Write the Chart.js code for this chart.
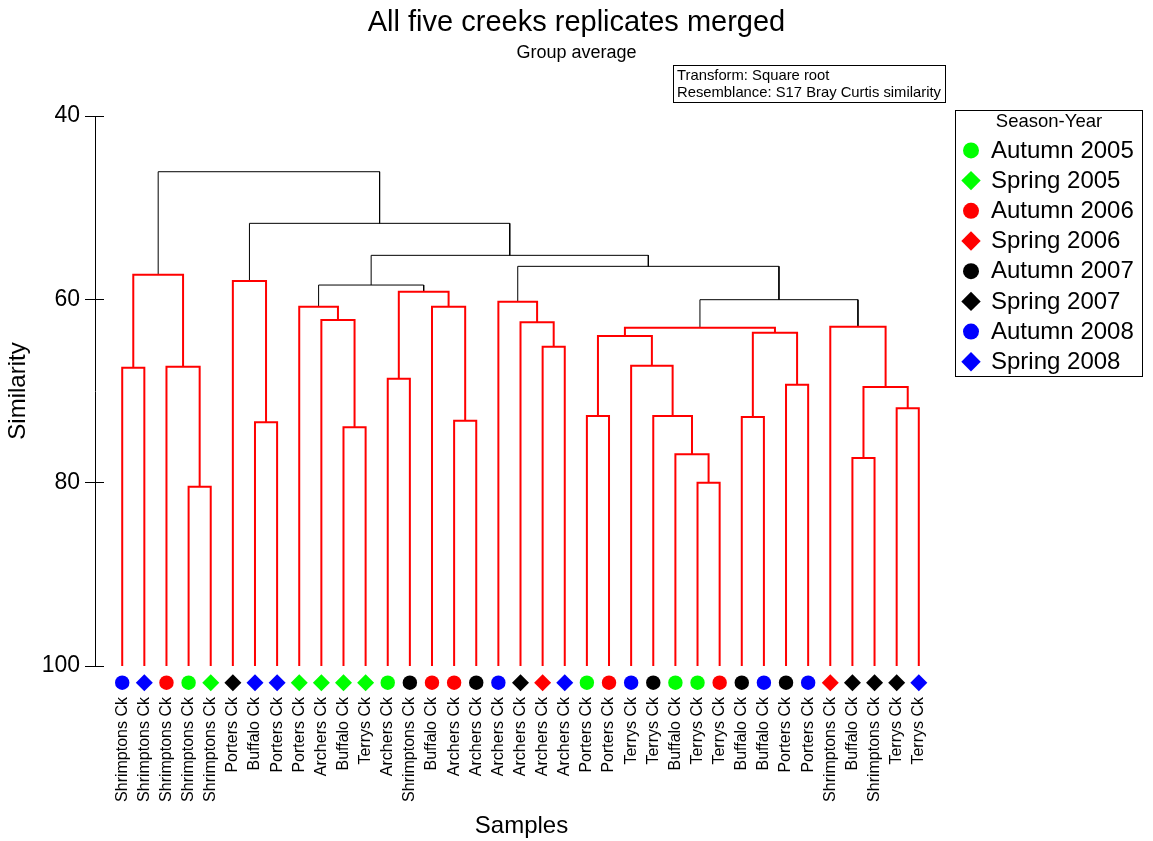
<!DOCTYPE html>
<html>
<head>
<meta charset="utf-8">
<title>All five creeks replicates merged</title>
<script src="https://cdn.jsdelivr.net/npm/chart.js@4.4.1/dist/chart.umd.min.js"></script>
<style>
  html, body { margin: 0; padding: 0; background: #ffffff; }
  canvas { display: block; }
</style>
</head>
<body>
<canvas id="chart" width="1153" height="841"></canvas>
<script>
// Samples, in the order the leaves come out of the tree
const sampleSites = [
  'Shrimptons Ck', 'Shrimptons Ck', 'Shrimptons Ck', 'Shrimptons Ck', 'Shrimptons Ck',
  'Porters Ck', 'Buffalo Ck', 'Porters Ck', 'Porters Ck', 'Archers Ck',
  'Buffalo Ck', 'Terrys Ck', 'Archers Ck', 'Shrimptons Ck', 'Buffalo Ck',
  'Archers Ck', 'Archers Ck', 'Archers Ck', 'Archers Ck', 'Archers Ck',
  'Archers Ck', 'Porters Ck', 'Porters Ck', 'Terrys Ck', 'Terrys Ck',
  'Buffalo Ck', 'Terrys Ck', 'Terrys Ck', 'Buffalo Ck', 'Buffalo Ck',
  'Porters Ck', 'Porters Ck', 'Shrimptons Ck', 'Buffalo Ck', 'Shrimptons Ck',
  'Terrys Ck', 'Terrys Ck'
];
const sampleSeasons = [
  'Autumn 2008', 'Spring 2008', 'Autumn 2006', 'Autumn 2005', 'Spring 2005',
  'Spring 2007', 'Spring 2008', 'Spring 2008', 'Spring 2005', 'Spring 2005',
  'Spring 2005', 'Spring 2005', 'Autumn 2005', 'Autumn 2007', 'Autumn 2006',
  'Autumn 2006', 'Autumn 2007', 'Autumn 2008', 'Spring 2007', 'Spring 2006',
  'Spring 2008', 'Autumn 2005', 'Autumn 2006', 'Autumn 2008', 'Autumn 2007',
  'Autumn 2005', 'Autumn 2005', 'Autumn 2006', 'Autumn 2007', 'Autumn 2008',
  'Autumn 2007', 'Autumn 2008', 'Spring 2006', 'Spring 2007', 'Spring 2007',
  'Spring 2007', 'Spring 2008'
];
const seasonYears = [
  'Autumn 2005', 'Spring 2005', 'Autumn 2006', 'Spring 2006',
  'Autumn 2007', 'Spring 2007', 'Autumn 2008', 'Spring 2008'
];

// Group-average linkage. Merge k joins node mergeLeft[k] with node mergeRight[k]
// at mergeSimilarity[k] %. Ids below 37 are samples; id 37 + k is merge k.
const mergeLeft  = [ 3,  2,  0, 39,  6,  5, 10,  9,  8, 12, 15, 14, 46, 45, 19, 18, 17, 21,
                    26, 25, 24, 23, 54, 28, 30, 60, 59, 33, 35, 64, 32, 63, 53, 50, 42, 40];
const mergeRight = [ 4, 37,  1, 38,  7, 41, 11, 43, 44, 13, 16, 47, 48, 49, 20, 51, 52, 22,
                    27, 55, 56, 57, 58, 29, 31, 61, 62, 34, 36, 65, 66, 67, 68, 69, 70, 71];
const mergeSimilarity = [
  80.44, 67.35, 67.46, 57.31, 73.41, 58.00, 73.96, 62.25, 60.80, 68.66, 73.24, 60.80,
  59.17, 58.44, 65.17, 62.51, 60.26, 72.73, 80.00, 76.91, 72.73, 67.24, 64.00, 72.84,
  69.31, 63.64, 63.09, 77.31, 71.89, 69.56, 62.98, 60.04, 56.40, 55.20, 51.71, 46.08
];
// SIMPROF result for each merge: true = significant structure (black), false = not (red)
const mergeSignificant = [
  false, false, false, false, false, false, false, false, false, false, false, false,
  false, true,  false, false, false, false, false, false, false, false, false, false,
  false, false, false, false, false, false, false, true,  true,  true,  true,  true
];
const similarityTicks = [40, 60, 80, 100];
const selfSimilarity = 100;

// ---- styling ----
const FONT = "'Liberation Sans', Arial, Helvetica, sans-serif";
const yearColour = { '2005': '#00ff00', '2006': '#ff0000', '2007': '#000000', '2008': '#0000ff' };
const seasonShape = { 'Autumn': 'circle', 'Spring': 'rectRot' };
const colourOf = s => yearColour[s.split(' ')[1]];
const shapeOf = s => seasonShape[s.split(' ')[0]];
const markerDrop = 1.82;   // similarity units below the leaf tips

// ---- tree layout ----
const nLeaves = sampleSites.length;
const rootId = nLeaves + mergeLeft.length - 1;
const order = [];
(function walk(id) {
  if (id < nLeaves) { order.push(id); return; }
  const k = id - nLeaves;
  walk(mergeLeft[k]);
  walk(mergeRight[k]);
})(rootId);

const nodeX = [], nodeY = [];
order.forEach((leaf, p) => { nodeX[leaf] = p; nodeY[leaf] = selfSimilarity; });
mergeLeft.forEach((a, k) => {
  const b = mergeRight[k];
  nodeX[nLeaves + k] = (nodeX[a] + nodeX[b]) / 2;
  nodeY[nLeaves + k] = mergeSimilarity[k];
});

// one bracket per merge
const linkSets = mergeLeft.map((a, k) => {
  const b = mergeRight[k], h = mergeSimilarity[k], sig = mergeSignificant[k];
  return {
    label: 'merge ' + k,
    data: [
      { x: nodeX[a], y: nodeY[a] }, { x: nodeX[a], y: h },
      { x: nodeX[b], y: h }, { x: nodeX[b], y: nodeY[b] }
    ],
    showLine: true,
    borderColor: sig ? '#000000' : '#ff0000',
    borderWidth: sig ? 1 : 2,
    borderJoinStyle: 'miter',
    borderCapStyle: 'butt',
    pointRadius: 0,
    fill: false,
    tension: 0
  };
});

// leaf markers, one dataset per season-year
const markerSets = seasonYears.map(season => ({
  label: season,
  leafMarkers: true,
  data: order
    .map((leaf, p) => ({ leaf, p }))
    .filter(o => sampleSeasons[o.leaf] === season)
    .map(o => ({ x: o.p, y: selfSimilarity + markerDrop })),
  showLine: false,
  pointStyle: shapeOf(season),
  pointRadius: shapeOf(season) === 'circle' ? 7.2 : 8.5,
  pointBackgroundColor: colourOf(season),
  pointBorderWidth: 0,
  clip: false
}));

function drawMarker(ctx, shape, x, y, r) {
  ctx.beginPath();
  if (shape === 'circle') {
    ctx.arc(x, y, r, 0, Math.PI * 2);
  } else {
    ctx.moveTo(x - r, y); ctx.lineTo(x, y - r); ctx.lineTo(x + r, y); ctx.lineTo(x, y + r);
    ctx.closePath();
  }
  ctx.fill();
}

// The leaf markers sit just below the plot area, where Chart.js skips points,
// so their elements are drawn again against the whole canvas.
const leafMarkers = {
  id: 'leafMarkers',
  afterDatasetsDraw(chart) {
    const whole = { left: 0, top: 0, right: chart.width, bottom: chart.height };
    chart.data.datasets.forEach((ds, i) => {
      if (!ds.leafMarkers) return;
      chart.getDatasetMeta(i).data.forEach(pt => pt.draw(chart.ctx, whole));
    });
  }
};

// tick stubs inside the axis, settings box and season-year key
const annotations = {
  id: 'annotations',
  afterDraw(chart) {
    const { ctx, chartArea, scales: { y } } = chart;
    ctx.save();
    ctx.strokeStyle = '#000';
    ctx.lineWidth = 1;
    y.ticks.forEach(t => {
      const py = Math.round(y.getPixelForValue(t.value) - 0.5) + 0.5;
      ctx.beginPath();
      ctx.moveTo(chartArea.left, py);
      ctx.lineTo(chartArea.left + 9, py);
      ctx.stroke();
    });

    ctx.strokeRect(673.5, 65.5, 272, 37);
    ctx.fillStyle = '#000';
    ctx.font = '14.8px ' + FONT;
    ctx.textAlign = 'left';
    ctx.textBaseline = 'middle';
    ctx.fillText('Transform: Square root', 677, 75.5);
    ctx.fillText('Resemblance: S17 Bray Curtis similarity', 677, 93);

    ctx.strokeRect(955.5, 110.5, 187, 266);
    ctx.font = '18.5px ' + FONT;
    ctx.textAlign = 'center';
    ctx.fillText('Season-Year', 1049, 121.5);
    ctx.font = '24px ' + FONT;
    ctx.textAlign = 'left';
    seasonYears.forEach((season, i) => {
      const cy = 150.4 + 30.2 * i;
      const shape = shapeOf(season);
      ctx.fillStyle = colourOf(season);
      drawMarker(ctx, shape, 971, cy, shape === 'circle' ? 8 : 9.7);
      ctx.fillStyle = '#000';
      ctx.fillText(season, 991, cy + 0.5);
    });
    ctx.restore();
  }
};

Chart.defaults.font.family = FONT;
Chart.defaults.color = '#000';

new Chart(document.getElementById('chart'), {
  type: 'scatter',
  data: { datasets: [...markerSets, ...linkSets] },
  options: {
    responsive: false,
    animation: false,
    events: [],
    layout: { padding: 0 },
    plugins: {
      legend: { display: false },
      tooltip: { enabled: false },
      title: {
        display: true,
        text: 'All five creeks replicates merged',
        color: '#000',
        font: { size: 29, weight: 'normal' },
        padding: { top: 6, bottom: 0 }
      },
      subtitle: {
        display: true,
        text: 'Group average',
        color: '#000',
        font: { size: 18, weight: 'normal' },
        padding: { top: 1, bottom: 52.6 }
      }
    },
    scales: {
      x: {
        type: 'linear',
        min: -1.23,
        max: 37.32,
        afterBuildTicks: s => { s.ticks = order.map((_, p) => ({ value: p })); },
        ticks: {
          autoSkip: false,
          minRotation: 90,
          maxRotation: 90,
          padding: 31,
          color: '#000',
          font: { size: 16 },
          callback: (v, i) => sampleSites[order[i]]
        },
        grid: { display: false, drawTicks: false },
        border: { display: false },
        title: {
          display: true,
          text: 'Samples',
          color: '#000',
          font: { size: 24 },
          padding: { top: 0, bottom: 0 }
        },
        afterFit: s => { s.height = 175; }
      },
      y: {
        type: 'linear',
        reverse: true,
        min: 40,
        max: 100,
        afterBuildTicks: s => { s.ticks = similarityTicks.map(v => ({ value: v })); },
        ticks: { padding: 5, color: '#000', font: { size: 23 } },
        grid: { drawOnChartArea: false, drawTicks: true, tickLength: 10, color: '#000', lineWidth: 1 },
        border: { display: true, color: '#000', width: 1 },
        title: {
          display: true,
          text: 'Similarity',
          color: '#000',
          font: { size: 24 },
          padding: { top: 4, bottom: 0 }
        },
        afterFit: s => { s.width = 95; }
      },
      side: {
        type: 'linear',
        position: 'right',
        display: true,
        ticks: { display: false },
        grid: { display: false, drawTicks: false },
        border: { display: false },
        afterFit: s => { s.width = 205; }
      }
    }
  },
  plugins: [leafMarkers, annotations]
});
</script>
</body>
</html>
